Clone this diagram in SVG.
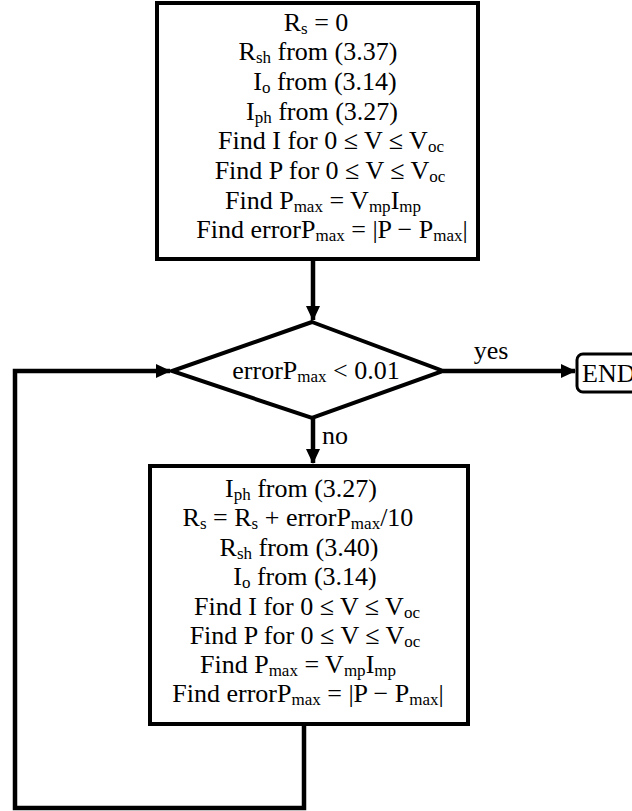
<svg xmlns="http://www.w3.org/2000/svg" width="632" height="811" viewBox="0 0 632 811">
<style>
.box{fill:#fff;stroke:#000;stroke-width:4}
.t{font-family:"Liberation Serif","Times New Roman",serif;font-size:26px;fill:#000;text-anchor:middle}
.s{font-size:17px}
.c{fill:none;stroke:#000;stroke-width:4.5}
</style>
<defs>
<marker id="ah" markerWidth="16" markerHeight="16" refX="14" refY="7" orient="auto" markerUnits="userSpaceOnUse">
<path d="M0,0 L15,7 L0,14 Z" fill="#000"/>
</marker>
</defs>
<g id="connectors">
<line class="c" x1="313" y1="259" x2="313" y2="320" marker-end="url(#ah)"/>
<line class="c" x1="443" y1="371" x2="575" y2="371" marker-end="url(#ah)"/>
<line class="c" x1="313" y1="418" x2="313" y2="463" marker-end="url(#ah)"/>
<polyline class="c" points="304,723 304,808 15,808 15,371 170,371" marker-end="url(#ah)"/>
<text class="t" x="491" y="359">yes</text>
<text class="t" x="335" y="444">no</text>
</g>
<g id="init">
<rect class="box" x="157" y="3" width="321" height="256"/>
<text class="t" x="316" y="31">R<tspan class="s" dy="3">s</tspan><tspan dy="-3"> = 0</tspan></text>
<text class="t" x="318" y="60">R<tspan class="s" dy="3">sh</tspan><tspan dy="-3"> from (3.37)</tspan></text>
<text class="t" x="325" y="90">I<tspan class="s" dy="3">o</tspan><tspan dy="-3"> from (3.14)</tspan></text>
<text class="t" x="322" y="120">I<tspan class="s" dy="3">ph</tspan><tspan dy="-3"> from (3.27)</tspan></text>
<text class="t" x="331" y="149">Find I for 0 ≤ V ≤ V<tspan class="s" dy="3">oc</tspan></text>
<text class="t" x="330" y="179">Find P for 0 ≤ V ≤ V<tspan class="s" dy="3">oc</tspan></text>
<text class="t" x="323" y="209">Find P<tspan class="s" dy="3">max</tspan><tspan dy="-3"> = V</tspan><tspan class="s" dy="3">mp</tspan><tspan dy="-3">I</tspan><tspan class="s" dy="3">mp</tspan></text>
<text class="t" x="332" y="238">Find errorP<tspan class="s" dy="3">max</tspan><tspan dy="-3"> = |P − P</tspan><tspan class="s" dy="3">max</tspan><tspan dy="-3">|</tspan></text>
</g>
<g id="decision">
<polygon class="box" points="312,322 443,371 312,418 172,371"/>
<text class="t" x="316" y="379">errorP<tspan class="s" dy="3">max</tspan><tspan dy="-3"> &lt; 0.01</tspan></text>
</g>
<g id="end">
<rect x="577" y="354" width="70" height="38" rx="6" fill="#fff" stroke="#000" stroke-width="3"/>
<text class="t" x="582" y="382" style="text-anchor:start">END</text>
</g>
<g id="update">
<rect class="box" x="150" y="466" width="318" height="258"/>
<text class="t" x="301" y="497">I<tspan class="s" dy="3">ph</tspan><tspan dy="-3"> from (3.27)</tspan></text>
<text class="t" x="298" y="526">R<tspan class="s" dy="3">s</tspan><tspan dy="-3"> = R</tspan><tspan class="s" dy="3">s</tspan><tspan dy="-3"> + errorP</tspan><tspan class="s" dy="3">max</tspan><tspan dy="-3">/10</tspan></text>
<text class="t" x="299" y="556">R<tspan class="s" dy="3">sh</tspan><tspan dy="-3"> from (3.40)</tspan></text>
<text class="t" x="305" y="585">I<tspan class="s" dy="3">o</tspan><tspan dy="-3"> from (3.14)</tspan></text>
<text class="t" x="307" y="615">Find I for 0 ≤ V ≤ V<tspan class="s" dy="3">oc</tspan></text>
<text class="t" x="305" y="644">Find P for 0 ≤ V ≤ V<tspan class="s" dy="3">oc</tspan></text>
<text class="t" x="298" y="673">Find P<tspan class="s" dy="3">max</tspan><tspan dy="-3"> = V</tspan><tspan class="s" dy="3">mp</tspan><tspan dy="-3">I</tspan><tspan class="s" dy="3">mp</tspan></text>
<text class="t" x="308" y="702">Find errorP<tspan class="s" dy="3">max</tspan><tspan dy="-3"> = |P − P</tspan><tspan class="s" dy="3">max</tspan><tspan dy="-3">|</tspan></text>
</g>
</svg>
